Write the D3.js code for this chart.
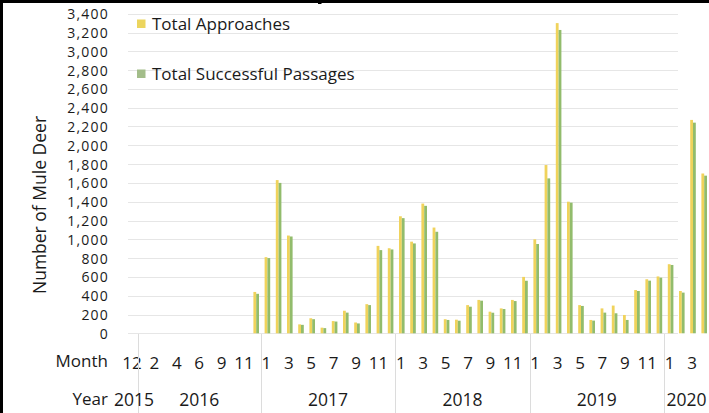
<!DOCTYPE html>
<html>
<head>
<meta charset="utf-8">
<script src="https://cdn.jsdelivr.net/npm/d3@7/dist/d3.min.js"></script>
<style>
  html, body { margin: 0; padding: 0; background: #fff; }
  svg { display: block; }
  text { font-family: "Open Sans", "Noto Sans", sans-serif; fill: #1a1a1a; }
</style>
</head>
<body>
<svg id="chart" width="709" height="413"></svg>
<script>
// ---- data ----
const years = ["2015", "2016", "2017", "2018", "2019", "2020"];
const monthsPerYear = [
  [12],
  [1, 2, 3, 4, 5, 6, 7, 9, 10, 11, 12],
  [1, 2, 3, 4, 5, 6, 7, 8, 9, 10, 11, 12],
  [1, 2, 3, 4, 5, 6, 7, 8, 9, 10, 11, 12],
  [1, 2, 3, 4, 5, 6, 7, 8, 9, 10, 11, 12],
  [1, 2, 3, 4]
];
const totalApproaches = [
  0,
  0, 0, 0, 0, 0, 0, 0, 0, 0, 0, 440,
  810, 1630, 1040, 95, 160, 60, 130, 240, 115, 310, 930, 905,
  1245, 975, 1380, 1125, 150, 145, 300, 355, 230, 265, 355, 600,
  1000, 1790, 3300, 1400, 300, 142, 265, 295, 195, 460, 575, 605,
  735, 450, 2270, 1700
];
const totalPassages = [
  0,
  0, 0, 0, 0, 0, 0, 0, 0, 0, 0, 420,
  800, 1600, 1030, 90, 150, 55, 125, 220, 105, 300, 885, 892,
  1225, 956, 1356, 1080, 142, 134, 283, 347, 219, 258, 343, 559,
  950, 1648, 3227, 1390, 291, 135, 220, 213, 142, 450, 560, 592,
  727, 433, 2241, 1677
];
const yTicks = [0, 200, 400, 600, 800, 1000, 1200, 1400, 1600, 1800, 2000,
  2200, 2400, 2600, 2800, 3000, 3200, 3400];
const seriesNames = ["Total Approaches", "Total Successful Passages"];
const seriesColors = ["#F0D35C", "#92BC6C"];
const legendColors = ["#ECD55E", "#A3BD8A"];

// ---- build categories ----
const cats = [];
monthsPerYear.forEach((ms, yi) => ms.forEach(m => cats.push({ year: years[yi], month: m })));
cats.forEach((c, i) => { c.i = i; c.a = totalApproaches[i]; c.p = totalPassages[i]; });

const svg = d3.select("#chart");
const W = 709, H = 413;

const x = d3.scaleBand().domain(cats.map(c => c.i)).range([126.4, 708.8]).paddingInner(0).paddingOuter(0);
const xSub = d3.scaleBand().domain(["a", "p"]).range([1, x.bandwidth() + 1]).paddingInner(0).paddingOuter(1);
const y = d3.scaleLinear().domain([0, 3400]).range([333.3, 13.7]);

// gridlines
const grid = svg.append("g");
grid.selectAll("line").data(yTicks).join("line")
  .attr("x1", 128).attr("x2", 678)
  .attr("y1", d => Math.round(y(d)) + 0.5).attr("y2", d => Math.round(y(d)) + 0.5)
  .attr("stroke", "#e6e6e6").attr("stroke-width", 1);

// y axis labels
const yAxis = d3.axisLeft(y).tickValues(yTicks).tickSize(0).tickPadding(0)
  .tickFormat(d3.format(","));
const yg = svg.append("g").attr("transform", "translate(109,0)").call(yAxis);
yg.select(".domain").remove();
yg.selectAll("text").attr("font-size", 14).attr("dy", "0.36em")
  .style("font-family", '"Open Sans", sans-serif').attr("fill", "#1a1a1a")
  .attr("letter-spacing", 1.2);

// bars
const groups = svg.append("g").selectAll("g").data(cats).join("g")
  .attr("transform", d => `translate(${x(d.i)},0)`);
groups.append("rect")
  .attr("x", xSub("a")).attr("width", xSub.bandwidth())
  .attr("y", d => y(d.a)).attr("height", d => y(0) - y(d.a))
  .attr("fill", seriesColors[0]);
groups.append("rect")
  .attr("x", xSub("p")).attr("width", xSub.bandwidth())
  .attr("y", d => y(d.p)).attr("height", d => y(0) - y(d.p))
  .attr("fill", seriesColors[1]);

// month labels (every other category)
svg.append("g").selectAll("text").data(cats.filter(c => c.i % 2 === 0)).join("text")
  .attr("x", d => x(d.i) + x.bandwidth() / 2)
  .attr("y", 369)
  .attr("text-anchor", "middle")
  .attr("font-size", 17)
  .text(d => d.month);
svg.append("text").attr("x", 108).attr("y", 367).attr("text-anchor", "end")
  .attr("font-size", 17).text("Month");

// year groups
const yearInfo = years.map(yr => {
  const cs = cats.filter(c => c.year === yr);
  return { year: yr, first: cs[0].i, last: cs[cs.length - 1].i };
});
svg.append("g").selectAll("line").data(yearInfo.slice(1)).join("line")
  .attr("x1", d => Math.round(x(d.first)) + 0.5).attr("x2", d => Math.round(x(d.first)) + 0.5)
  .attr("y1", 334).attr("y2", 413)
  .attr("stroke", "#dcdcdc").attr("stroke-width", 1);
svg.append("g").selectAll("text").data(yearInfo).join("text")
  .attr("x", d => (x(d.first) + x(d.last) + x.bandwidth()) / 2 + (d.year === "2015" ? 2 : 0))
  .attr("y", 406)
  .attr("text-anchor", "middle")
  .attr("font-size", 17.5)
  .text(d => d.year);
svg.append("text").attr("x", 108).attr("y", 405).attr("text-anchor", "end")
  .attr("font-size", 17).text("Year");

// y title
svg.append("text").attr("transform", "translate(46,205) rotate(-90)")
  .attr("text-anchor", "middle").attr("font-size", 17.5).text("Number of Mule Deer");

// legend
const leg = svg.append("g");
[0, 1].forEach(k => {
  leg.append("rect").attr("x", 137).attr("y", 19.5 + k * 50).attr("width", 8.5).attr("height", 8.5)
    .attr("fill", legendColors[k]);
  leg.append("text").attr("x", 152).attr("y", 30 + k * 50).attr("font-size", 17)
    .text(seriesNames[k]);
});

// frame (left and top border)
svg.append("rect").attr("x", 0).attr("y", 0).attr("width", W).attr("height", 3).attr("fill", "#000");
svg.append("rect").attr("x", 0).attr("y", 0).attr("width", 3).attr("height", H).attr("fill", "#000");
svg.append("rect").attr("x", 318).attr("y", 0).attr("width", 3.5).attr("height", 4).attr("fill", "#000");
</script>
</body>
</html>
